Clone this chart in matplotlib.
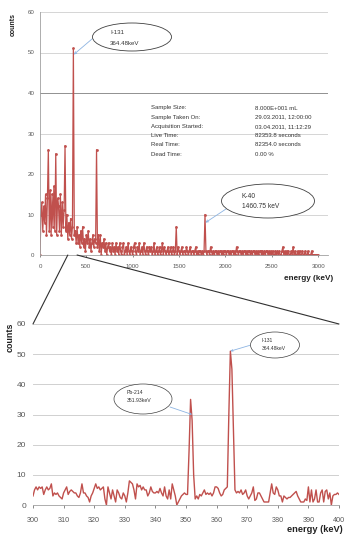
import numpy as np
import matplotlib
matplotlib.use("Agg")
import matplotlib.pyplot as plt
from matplotlib.patches import Ellipse, ConnectionPatch

plt.rcParams['font.family'] = ['Liberation Sans', 'DejaVu Sans']

# ---------------- data ----------------
# full spectrum, 10 keV bins from 0 to 3000 keV
full_start, full_step = 0, 10
full_counts = [
    0, 10, 13, 6, 12, 8, 15, 5, 14, 26, 6, 16, 5, 15, 7, 17, 6, 25, 5, 14,      # 0-190
    12, 6, 15, 5, 13, 7, 11, 27, 6, 10, 4, 8, 5, 9, 4, 7, 51, 5, 6, 3,          # 200-390
    7, 3, 5, 2, 6, 3, 7, 2, 4, 1, 5, 3, 6, 2, 4, 1, 3, 5, 2, 4,                 # 400-590
    3, 26, 2, 5, 1, 5, 0, 3, 2, 4, 1, 3, 0, 2, 3, 1, 2, 0, 3, 1,                # 600-790
    2, 0, 3, 1, 2, 0, 3, 1, 0, 2, 3, 0, 1, 2, 0, 3, 1, 0, 2, 1,                 # 800-990
    0, 2, 3, 1, 0, 2, 1, 3, 0, 1, 2, 0, 3, 1, 0, 2, 1, 0, 2, 1,                 # 1000-1190
    2, 0, 1, 3, 0, 1, 2, 0, 1, 2, 0, 1, 3, 0, 2, 1, 0, 1, 2, 0,                 # 1200-1390
    1, 2, 0, 1, 2, 0, 1, 7, 0, 2, 1, 0, 1, 2, 0, 1, 1, 0, 2, 1,                 # 1400-1590
    0, 1, 2, 0, 1, 1, 0, 1, 2, 0, 1, 0, 1, 1, 0, 1, 0, 1, 10, 1,                # 1600-1790
    0, 1, 1, 0, 2, 1, 0, 1, 0, 1, 1, 0, 1, 0, 1, 1, 0, 1, 0, 1,                 # 1800-1990
    1, 0, 1, 1, 0, 1, 0, 1, 1, 0, 1, 0, 2, 1, 0, 1, 1, 0, 1, 0,                 # 2000-2190
    1, 1, 0, 1, 0, 1, 1, 0, 1, 0, 1, 1, 0, 1, 0, 1, 0, 1, 1, 0,                 # 2200-2390
    1, 0, 1, 0, 1, 1, 0, 1, 0, 1, 0, 1, 0, 0, 1, 0, 1, 0, 1, 0,                 # 2400-2590
    0, 1, 2, 0, 1, 0, 1, 0, 1, 0, 0, 1, 0, 2, 0, 1, 0, 0, 1, 0,                 # 2600-2790
    1, 0, 0, 1, 0, 0, 1, 0, 0, 1, 0, 0, 0, 1, 0, 0, 0, 0, 0, 0,                 # 2800-2990
    0,                                                                          # 3000
]

# zoomed spectrum, 0.5 keV bins from 300 to 400 keV
zoom_start, zoom_step = 300, 0.5
zoom_counts = [
    3, 5, 6, 5, 6, 5.5, 6, 3.5, 5, 6,          # 300-304.5
    5, 5.5, 7, 3, 4, 3.5, 4, 3, 2.5, 2,        # 305-309.5
    4, 5, 6, 3.5, 4.5, 5, 4.5, 4, 4, 3,        # 310-314.5
    2.5, 4, 7, 4, 4, 3, 2.5, 1, 3, 4,          # 315-319.5
    5.5, 7, 5.5, 6, 5, 5.5, 6, 2, 0, 6,        # 320-324.5
    4, 2, 5, 3, 1, 5, 4, 2.5, 2, 4,            # 325-329.5
    3, 1, 4, 8, 7.5, 7, 5, 2, 7, 6,            # 330-334.5
    6.5, 5, 6, 5, 5, 3, 4, 6, 4.5, 4,          # 335-339.5
    4, 4.5, 4, 5.5, 4, 3, 6, 3, 2, 5,          # 340-344.5
    2, 7, 5, 3, 0, 1, 2, 3, 3.5, 4,            # 345-349.5
    3.5, 3.5, 18, 35, 28, 10, 2, 3, 2, 3.5,    # 350-354.5
    3, 4, 5, 3.5, 4, 3.5, 4, 3, 4, 6,          # 355-359.5
    6, 5.5, 4, 3, 3.5, 5, 5.5, 6, 30, 51,      # 360-364.5
    45, 25, 5, 4, 4.5, 4, 5, 3.5, 4, 5,        # 365-369.5
    3, 2, 3, 4, 6, 1.5, 2, 4, 4, 3,            # 370-374.5
    2, 1, 1, 1, 1, 4, 7, 4, 3.5, 6,            # 375-379.5
    5, 3, 3, 1, 3, 2.5, 2, 2.5, 2.5, 3,        # 380-384.5
    3.5, 4, 4.5, 3, 2, 1, 1, 1, 2, 1.5,        # 385-389.5
    6, 1, 5, 1, 2, 5, 1, 1, 4, 5,              # 390-394.5
    1, 4.5, 5, 2, 4, 0, 3, 3.5, 3.5, 4,        # 395-399.5
    3.5,                                       # 400
]

top_xticks = [0, 500, 1000, 1500, 2000, 2500, 3000]
top_yticks = [0, 10, 20, 30, 40, 50, 60]
bot_xticks = list(range(300, 401, 10))
bot_yticks = [0, 10, 20, 30, 40, 50, 60]

info_labels = ["Sample Size:", "Sample Taken On:", "Acquisition Started:",
               "Live Time:", "Real Time:", "Dead Time:"]
info_values = ["8.000E+001 mL", "29.03.2011, 12:00:00", "03.04.2011, 11:12:29",
               "82353.8 seconds", "82354.0 seconds", "0.00 %"]

full_x = full_start + full_step * np.arange(len(full_counts))
zoom_x = zoom_start + zoom_step * np.arange(len(zoom_counts))

# ---------------- figure ----------------
W, H = 350, 545
fig = plt.figure(figsize=(W / 100, H / 100), dpi=100)

def fx(px):
    return px / W

def fy(py):
    return 1 - py / H

RED = '#C0504D'
TICKC = '#595959'
BLUE = '#8DB4E2'

# top axes
ax1 = fig.add_axes([fx(40), fy(255), fx(328) - fx(40), fy(12) - fy(255)])
ax1.plot(full_x, full_counts, color=RED, lw=0.9, marker='o', ms=2.0, mew=0)
ax1.set_xlim(0, 3107)
ax1.set_ylim(0, 60)
ax1.set_xticks(top_xticks)
ax1.set_yticks(top_yticks)
ax1.tick_params(axis='both', labelsize=4.4, colors=TICKC, length=1.5, width=0.5)
ax1.tick_params(axis='y', length=0, pad=4)
ax1.tick_params(axis='x', pad=5)
for s in ['top', 'right']:
    ax1.spines[s].set_visible(False)
ax1.spines['left'].set_color('#a0a0a0')
ax1.spines['left'].set_linewidth(0.6)
ax1.spines['bottom'].set_color('#a0a0a0')
ax1.spines['bottom'].set_linewidth(0.6)
for yv in top_yticks[1:]:
    ax1.axhline(yv, color='#7f7f7f' if yv == 40 else '#cfcfcf', lw=0.6, zorder=0)

fig.text(fx(13), fy(24), 'counts', rotation=90, ha='center', va='center',
         fontsize=5, fontweight='bold', color='#222222')
fig.text(fx(333), fy(279), 'energy (keV)', ha='right', va='center',
         fontsize=5.9, fontweight='bold', color='#222222')

# info block
for i, (lab, val) in enumerate(zip(info_labels, info_values)):
    yy = 108 + i * 9.2
    fig.text(fx(151), fy(yy), lab, ha='left', va='center', fontsize=4.3, color='#333333')
    fig.text(fx(255), fy(yy), val, ha='left', va='center', fontsize=4.3, color='#333333')

# top annotations
fig.add_artist(Ellipse((fx(132), fy(37)), fx(79), 28 / H, transform=fig.transFigure,
                       facecolor='white', edgecolor='#404040', lw=0.6))
fig.text(fx(110), fy(32), 'I-131', fontsize=4.4, va='center', color='#333333')
fig.text(fx(110), fy(43), '364.48keV', fontsize=4.4, va='center', color='#333333')
ax1.annotate('', xy=(364, 49.5), xycoords='data', xytext=(fx(92), fy(39)),
             textcoords='figure fraction',
             arrowprops=dict(arrowstyle='->', color=BLUE, lw=0.6,
                             mutation_scale=4, shrinkA=0, shrinkB=0))

fig.add_artist(Ellipse((fx(268), fy(201)), fx(93), 34 / H, transform=fig.transFigure,
                       facecolor='white', edgecolor='#404040', lw=0.6))
fig.text(fx(242), fy(197), 'K-40', fontsize=4.8, va='center', color='#333333')
fig.text(fx(242), fy(206), '1460.75 keV', fontsize=4.8, va='center', color='#333333')
ax1.annotate('', xy=(1785, 8), xycoords='data', xytext=(fx(226), fy(209)),
             textcoords='figure fraction',
             arrowprops=dict(arrowstyle='->', color=BLUE, lw=0.6,
                             mutation_scale=4, shrinkA=0, shrinkB=0))

# bottom axes
ax2 = fig.add_axes([fx(33), fy(505), fx(339) - fx(33), fy(324) - fy(505)])
ax2.plot(zoom_x, zoom_counts, color=RED, lw=1.0)
ax2.set_xlim(300, 400)
ax2.set_ylim(0, 60)
ax2.set_xticks(bot_xticks)
ax2.set_yticks(bot_yticks)
ax2.tick_params(axis='x', labelsize=5.2, colors=TICKC, length=2, width=0.5, pad=7)
ax2.tick_params(axis='y', labelsize=6, colors=TICKC, length=0, pad=5)
for s in ['top', 'right', 'left']:
    ax2.spines[s].set_visible(False)
ax2.spines['bottom'].set_color('#a0a0a0')
ax2.spines['bottom'].set_linewidth(0.6)
for yv in bot_yticks[1:]:
    ax2.axhline(yv, color='#d0d0d0', lw=0.7, zorder=0)

fig.text(fx(10), fy(337), 'counts', rotation=90, ha='center', va='center',
         fontsize=6.4, fontweight='bold', color='#222222')
fig.text(fx(343), fy(529), 'energy (keV)', ha='right', va='center',
         fontsize=6.7, fontweight='bold', color='#222222')

# bottom annotations
fig.add_artist(Ellipse((fx(143), fy(399)), fx(58), 30 / H, transform=fig.transFigure,
                       facecolor='white', edgecolor='#404040', lw=0.5))
fig.text(fx(127), fy(392), 'Pb-214', fontsize=3.7, va='center', color='#333333')
fig.text(fx(127), fy(401), '351.93keV', fontsize=3.7, va='center', color='#333333')
ax2.annotate('', xy=(352, 30), xycoords='data', xytext=(fx(170), fy(407)),
             textcoords='figure fraction',
             arrowprops=dict(arrowstyle='->', color=BLUE, lw=0.6,
                             mutation_scale=3, shrinkA=0, shrinkB=0))

fig.add_artist(Ellipse((fx(275), fy(345)), fx(49), 26 / H, transform=fig.transFigure,
                       facecolor='white', edgecolor='#404040', lw=0.5))
fig.text(fx(262), fy(340), 'I-131', fontsize=3.6, va='center', color='#333333')
fig.text(fx(262), fy(348), '364.48keV', fontsize=3.6, va='center', color='#333333')
ax2.annotate('', xy=(364.5, 51), xycoords='data', xytext=(fx(251), fy(345)),
             textcoords='figure fraction',
             arrowprops=dict(arrowstyle='->', color=BLUE, lw=0.6,
                             mutation_scale=3, shrinkA=0, shrinkB=0))

# zoom connector lines
for xv in (300, 400):
    con = ConnectionPatch(xyA=(xv, 0), coordsA=ax1.transData,
                          xyB=(xv, 60), coordsB=ax2.transData,
                          color='#303030', lw=0.8)
    fig.add_artist(con)

fig.savefig('out.png', dpi=100)
